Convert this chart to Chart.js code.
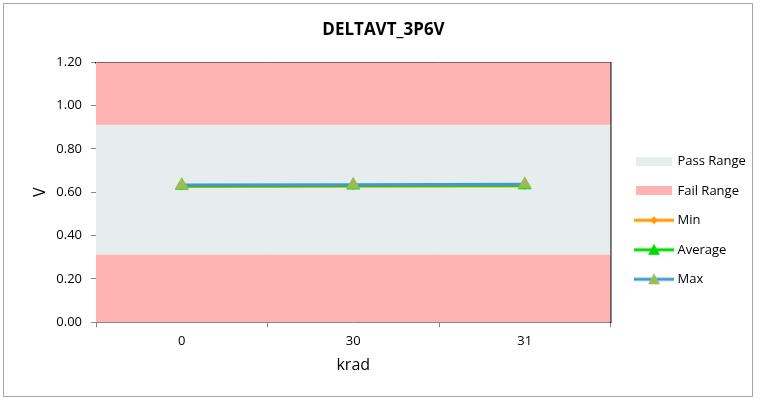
<!DOCTYPE html>
<html>
<head>
<meta charset="utf-8">
<script src="https://cdn.jsdelivr.net/npm/chart.js@4.4.1/dist/chart.umd.min.js"></script>
<style>
    body { margin: 0; background: #fff; }
    #wrap { position: relative; width: 759px; height: 400px; }
    #frame { position: absolute; left: 3px; top: 3px; width: 748px; height: 392px; border: 1px solid #a6a6a6; pointer-events: none; }
    canvas { position: absolute; left: 0; top: 0; }
</style>
</head>
<body>
<div id="wrap">
    <canvas id="chart" width="759" height="400"></canvas>
    <div id="frame"></div>
</div>
<script>
// categories (krad)
const categories = ['0', '30', '31'];

// limit bands, stacked: lower fail, pass, upper fail
const failLow = [0.31, 0.31, 0.31];
const passBand = [0.60, 0.60, 0.60];
const failHigh = [0.29, 0.29, 0.29];

// measured values (V)
const minValues = [0.627, 0.628, 0.629];
const avgValues = [0.630, 0.631, 0.632];
const maxValues = [0.634, 0.635, 0.637];

const yTicks = [0, 0.2, 0.4, 0.6, 0.8, 1.0, 1.2];

const PASS = '#E7ECEC';
const FAIL = '#FFB3B3';
const ORANGE = '#FF9A00';
const GREEN = '#00DC00';
const BLUE = '#3C9BCF';
const OLIVE = '#9BBB59';
const FONT = "'Open Sans', 'Liberation Sans', sans-serif";

Chart.defaults.font.family = FONT;
Chart.defaults.font.size = 13;
Chart.defaults.color = '#000';

// small legend icons
function rectIcon(color) {
    let c = document.createElement('canvas');
    c.width = 36; c.height = 9;
    let ctx = c.getContext('2d');
    ctx.fillStyle = color;
    ctx.fillRect(0, 0, 36, 9);
    return c;
}

function lineIcon(lineColor, markerColor, marker) {
    let c = document.createElement('canvas');
    c.width = 40; c.height = 14;
    let ctx = c.getContext('2d');
    ctx.strokeStyle = lineColor;
    ctx.lineWidth = 3;
    ctx.beginPath();
    ctx.moveTo(0, 7);
    ctx.lineTo(40, 7);
    ctx.stroke();
    ctx.fillStyle = markerColor;
    ctx.beginPath();
    if (marker === 'diamond') {
        ctx.moveTo(20, 3); ctx.lineTo(24, 7); ctx.lineTo(20, 11); ctx.lineTo(16, 7);
    } else {
        ctx.moveTo(20, 1); ctx.lineTo(26, 12); ctx.lineTo(14, 12);
    }
    ctx.closePath();
    ctx.fill();
    return c;
}

const icons = {
    'Pass Range': rectIcon(PASS),
    'Fail Range': rectIcon(FAIL),
    'Min': lineIcon(ORANGE, ORANGE, 'diamond'),
    'Average': lineIcon(GREEN, GREEN, 'triangle'),
    'Max': lineIcon(BLUE, OLIVE, 'triangle')
};

const datasets = [
    {
        type: 'bar', label: 'Fail Range', data: failLow, stack: 'bands',
        backgroundColor: FAIL, borderWidth: 0, barPercentage: 1, categoryPercentage: 1, order: 10
    },
    {
        type: 'bar', label: 'Pass Range', data: passBand, stack: 'bands',
        backgroundColor: PASS, borderWidth: 0, barPercentage: 1, categoryPercentage: 1, order: 10
    },
    {
        type: 'bar', label: 'Fail Range ', data: failHigh, stack: 'bands',
        backgroundColor: FAIL, borderWidth: 0, barPercentage: 1, categoryPercentage: 1, order: 10
    },
    {
        type: 'line', label: 'Min', data: minValues, stack: 'min',
        borderColor: ORANGE, backgroundColor: ORANGE, borderWidth: 3,
        pointStyle: 'rectRot', pointRadius: 4, pointBorderWidth: 0, order: 3
    },
    {
        type: 'line', label: 'Average', data: avgValues, stack: 'avg',
        borderColor: GREEN, backgroundColor: GREEN, borderWidth: 3,
        pointStyle: 'triangle', pointRadius: 8, pointBorderWidth: 0, order: 2
    },
    {
        type: 'line', label: 'Max', data: maxValues, stack: 'max',
        borderColor: BLUE, backgroundColor: OLIVE, pointBackgroundColor: OLIVE, borderWidth: 3,
        pointStyle: 'triangle', pointRadius: 8, pointBorderWidth: 0, order: 1
    }
];

const legendOrder = ['Pass Range', 'Fail Range', 'Min', 'Average', 'Max'];

// legend box comes out a bit narrow for the widest label, let it run to the canvas edge
const legendRoom = {
    id: 'legendRoom',
    afterLayout(chart) {
        if (chart.legend) {
            chart.legend.right = chart.width;
        }
    }
};

const config = {
    data: {
        labels: categories,
        datasets: datasets
    },
    plugins: [legendRoom],
    options: {
        responsive: false,
        animation: false,
        layout: {
            padding: { left: 28, right: 20, top: 10, bottom: 25 }
        },
        plugins: {
            title: {
                display: true,
                text: 'DELTAVT_3P6V',
                color: '#000',
                font: { family: FONT, size: 17, weight: 'bold' },
                padding: { top: 10, bottom: 22 }
            },
            legend: {
                position: 'right',
                title: { display: true, text: '', padding: 20 },
                labels: {
                    color: '#000',
                    font: { family: FONT, size: 13 },
                    usePointStyle: true,
                    pointStyleWidth: 34,
                    padding: 16.5,
                    generateLabels: (chart) => {
                        let items = Chart.defaults.plugins.legend.labels.generateLabels(chart);
                        items = items.filter(it => legendOrder.indexOf(it.text) >= 0);
                        items.sort((a, b) => legendOrder.indexOf(a.text) - legendOrder.indexOf(b.text));
                        items.forEach(it => {
                            it.pointStyle = icons[it.text];
                            it.lineWidth = 0;
                        });
                        return items;
                    }
                }
            },
            tooltip: { enabled: false }
        },
        scales: {
            x: {
                type: 'category',
                stacked: true,
                offset: true,
                grid: { offset: true, drawOnChartArea: false, tickLength: 5, color: '#868686' },
                border: { color: '#868686' },
                ticks: { color: '#000', font: { family: FONT, size: 13 }, padding: 6 },
                title: { display: true, text: 'krad', color: '#000', font: { family: FONT, size: 16 }, padding: { top: 1, bottom: 0 } }
            },
            x2: {
                type: 'category',
                position: 'top',
                grid: { display: false },
                ticks: { display: false },
                border: { color: '#111', width: 1.5 },
                afterFit: (s) => { s.height = 0; }
            },
            y: {
                stacked: true,
                min: 0,
                max: 1.2,
                afterBuildTicks: (s) => { s.ticks = yTicks.map(v => ({ value: v })); },
                afterFit: (s) => { s.width = 68; },
                grid: { drawOnChartArea: false, tickLength: 5, color: '#868686' },
                border: { color: '#868686' },
                ticks: {
                    color: '#000', font: { family: FONT, size: 13 }, padding: 9,
                    callback: (v) => Number(v).toFixed(2)
                },
                title: { display: true, text: 'V', color: '#000', font: { family: FONT, size: 16 }, padding: { top: 2.4, bottom: 0 } }
            },
            y2: {
                type: 'linear',
                position: 'right',
                grid: { display: false },
                ticks: { display: false },
                border: { color: '#111', width: 1.5 },
                afterFit: (s) => { s.width = 10; }
            }
        }
    }
};

Promise.all([
    document.fonts.load("13px 'Open Sans'"),
    document.fonts.load("16px 'Open Sans'"),
    document.fonts.load("bold 17px 'Open Sans'")
]).catch(() => null).then(() => {
    new Chart(document.getElementById('chart'), config);
});
</script>
</body>
</html>
